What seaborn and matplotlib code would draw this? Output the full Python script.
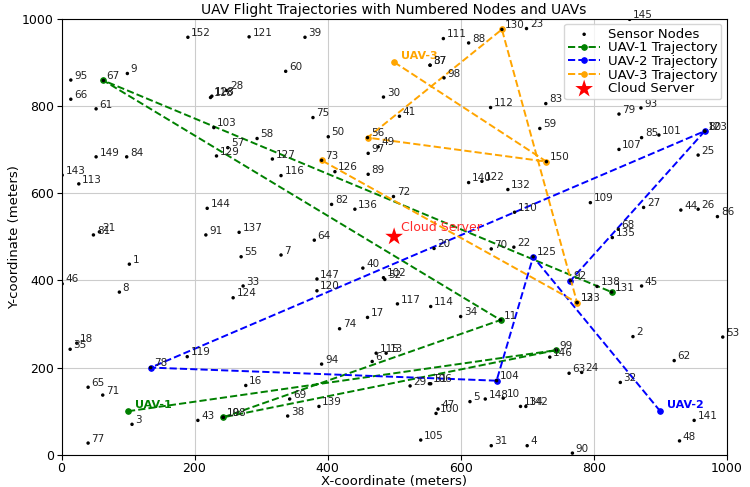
import matplotlib.pyplot as plt
import seaborn as sns
import pandas as pd

# sensor nodes (id, x, y)
node_id = [1, 2, 3, 4, 5, 6, 7, 8, 9, 10, 11, 16, 17, 18, 20, 21, 22, 23, 24, 25,
           26, 27, 28, 29, 30, 31, 32, 33, 34, 35, 37, 38, 39, 40, 41, 43, 44, 45, 46, 47,
           49, 50, 51, 52, 53, 55, 56, 57, 58, 59, 60, 61, 62, 63, 64, 65, 66, 67, 68, 69,
           70, 71, 72, 73, 74, 75, 77, 78, 79, 80, 81, 82, 83, 84, 85, 86, 87, 88, 89, 90,
           91, 92, 93, 94, 95, 97, 98, 99, 100, 101, 102, 103, 104, 105, 106, 107, 108, 109, 110, 111,
           112, 113, 114, 115, 116, 117, 118, 119, 120, 121, 122, 123, 124, 125, 126, 127, 128, 129, 130, 131,
           132, 133, 134, 135, 136, 137, 138, 139, 140, 141, 142, 143, 144, 145, 146, 147, 148, 149, 150, 152,
           12, 19, 48, 13]
node_x = [102, 859, 106, 700, 614, 467, 330, 87, 99, 664, 660, 277, 460, 23, 560, 57, 680, 699, 782, 957,
          957, 875, 248, 524, 484, 646, 840, 273, 600, 13, 554, 340, 366, 453, 508, 205, 931, 872, 1, 566,
          476, 401, 555, 486, 994, 270, 460, 250, 294, 719, 337, 52, 921, 763, 380, 40, 14, 63, 837, 343,
          646, 62, 499, 391, 418, 378, 40, 134, 838, 967, 48, 406, 728, 98, 872, 986, 554, 612, 461, 768,
          217, 765, 871, 391, 14, 461, 575, 744, 563, 898, 484, 229, 654, 540, 553, 838, 243, 795, 681, 574,
          645, 26, 555, 473, 330, 505, 224, 189, 384, 282, 632, 967, 258, 709, 411, 317, 226, 233, 662, 827,
          671, 775, 690, 828, 441, 267, 805, 387, 612, 951, 698, 1, 219, 854, 734, 384, 637, 52, 729, 190,
          775, 243, 929, 488]
node_y = [437, 271, 70, 21, 122, 214, 458, 373, 874, 130, 309, 159, 315, 256, 473, 511, 476, 977, 189, 687,
          563, 567, 835, 158, 820, 21, 166, 387, 317, 242, 893, 89, 957, 428, 776, 79, 561, 387, 392, 105,
          706, 729, 163, 402, 270, 454, 727, 704, 725, 748, 879, 793, 216, 187, 492, 155, 815, 858, 517, 128,
          472, 137, 592, 675, 289, 773, 27, 200, 781, 742, 504, 574, 805, 683, 727, 546, 893, 944, 643, 4,
          504, 399, 795, 208, 859, 691, 864, 240, 95, 733, 406, 750, 170, 34, 163, 700, 86, 578, 556, 954,
          796, 621, 340, 233, 640, 346, 819, 225, 376, 958, 627, 742, 360, 454, 649, 678, 822, 685, 975, 373,
          608, 349, 111, 498, 563, 510, 386, 111, 624, 79, 111, 641, 565, 998, 224, 403, 128, 683, 672, 957,
          349, 86, 32, 233]

# UAV trajectories (visit order)
uav1_x = [100, 744, 243, 660, 63, 827]
uav1_y = [100, 240, 86, 309, 858, 373]
uav2_x = [900, 709, 654, 134, 967, 765]
uav2_y = [100, 454, 170, 200, 742, 399]
uav3_x = [500, 729, 460, 662, 775, 391]
uav3_y = [900, 672, 727, 975, 349, 675]

server_x = [500]
server_y = [500]

nodes = pd.DataFrame({'id': node_id, 'x': node_x, 'y': node_y})

fig, ax = plt.subplots(figsize=(7.5, 4.87), dpi=100)
fig.subplots_adjust(left=0.082, right=0.969, top=0.962, bottom=0.066)

sns.scatterplot(data=nodes, x='x', y='y', color='black', marker='.', s=25,
                edgecolor='none', label='Sensor Nodes', ax=ax, zorder=3)
for i, x, y in zip(node_id, node_x, node_y):
    ax.text(x + 5, y + 3, str(i), fontsize=7.5, color='#222222', zorder=4)

trajs = [(uav1_x, uav1_y, 'green', 'UAV-1'),
         (uav2_x, uav2_y, 'blue', 'UAV-2'),
         (uav3_x, uav3_y, 'orange', 'UAV-3')]
for xs, ys, col, name in trajs:
    sns.lineplot(x=xs, y=ys, sort=False, estimator=None, color=col, linestyle='--',
                 marker='o', markersize=4, markeredgecolor=col, linewidth=1.4,
                 label=name + ' Trajectory', ax=ax, zorder=2)
    ax.text(xs[0] + 10, ys[0] + 8, name, color=col, fontsize=8, fontweight='bold')

sns.scatterplot(x=server_x, y=server_y, color='red', marker='*', s=180,
                edgecolor='none', label='Cloud Server', ax=ax, zorder=5)
ax.text(510, 512, 'Cloud Server', color='#ff2a2a', fontsize=9)

ax.set_xlim(0, 1000)
ax.set_ylim(0, 1000)
ax.set_xticks(range(0, 1001, 200))
ax.set_yticks(range(0, 1001, 200))
ax.tick_params(labelsize=9, pad=2)
ax.grid(True, color='#cccccc')
ax.set_axisbelow(True)
ax.set_title('UAV Flight Trajectories with Numbered Nodes and UAVs', fontsize=10, pad=3)
ax.set_xlabel('X-coordinate (meters)', fontsize=9.5, labelpad=0)
ax.set_ylabel('Y-coordinate (meters)', fontsize=9.5, labelpad=1)
ax.legend(loc='upper right', fontsize=9.5, handlelength=2.4, borderaxespad=0.4,
          labelspacing=0.05, borderpad=0.3, handletextpad=0.6)

fig.savefig('out.png')
